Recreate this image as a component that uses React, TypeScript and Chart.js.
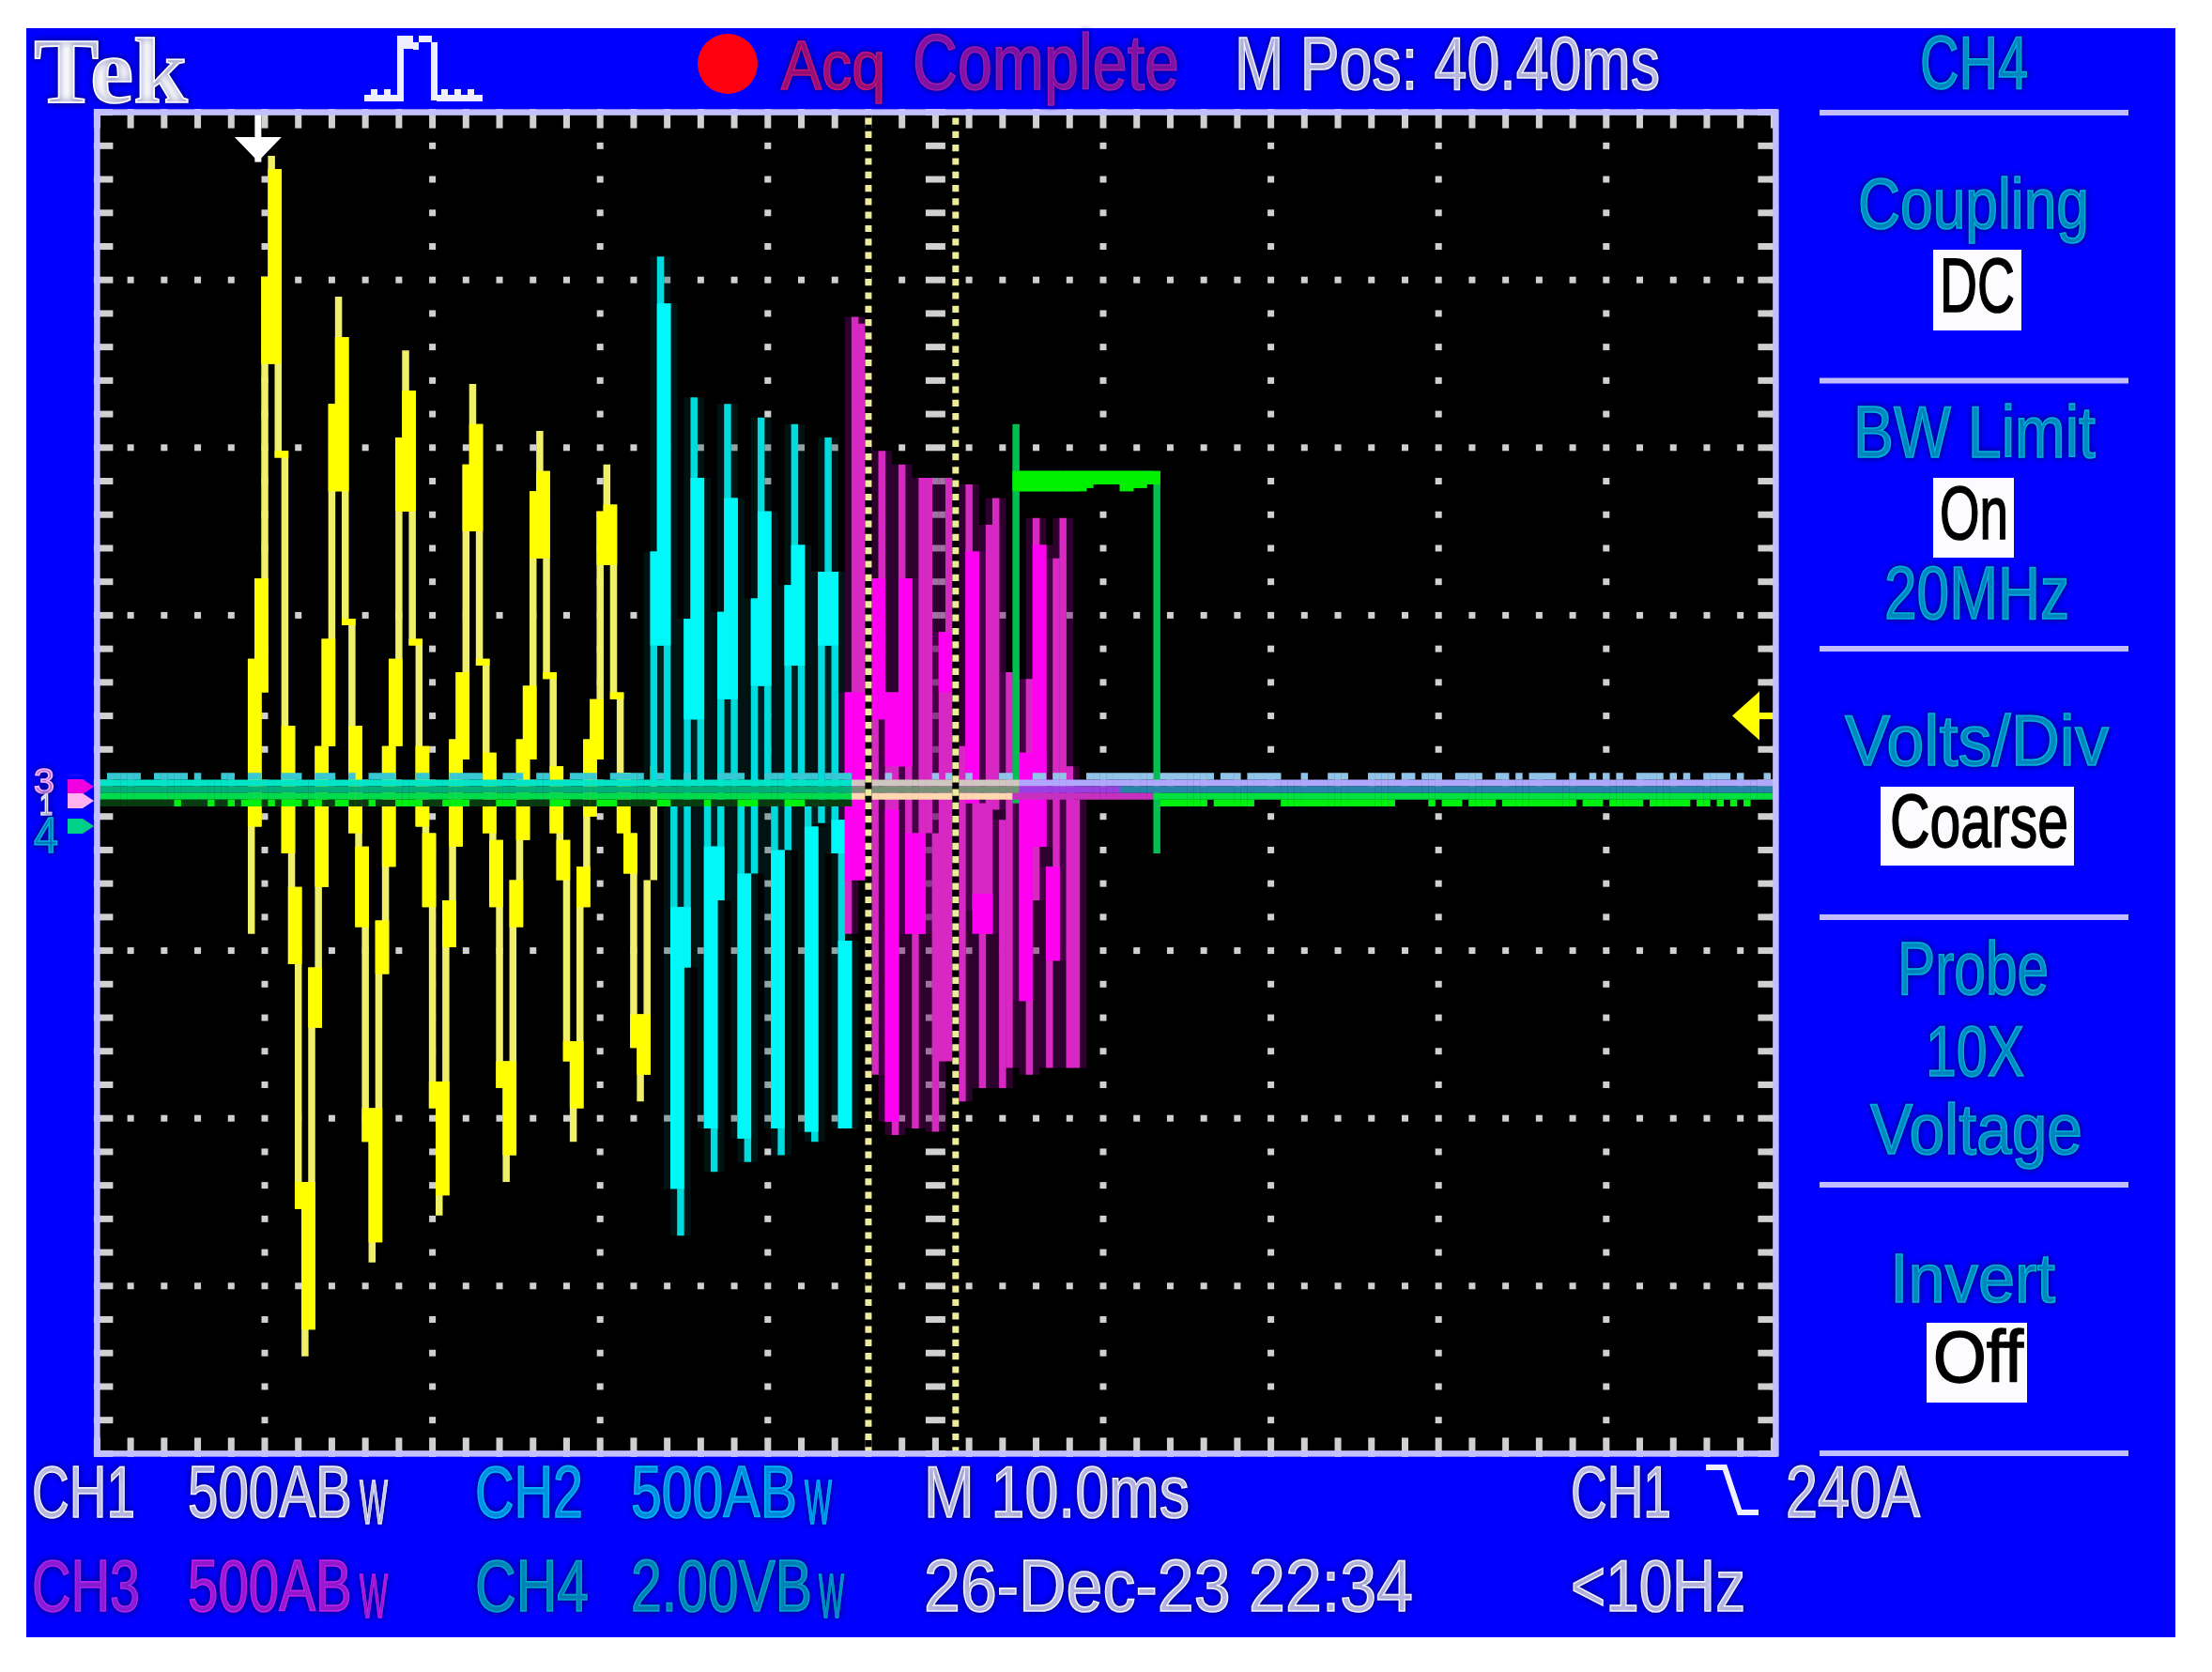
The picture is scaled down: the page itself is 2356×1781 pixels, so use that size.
import React, { useEffect, useRef } from "react";
import { Chart, registerables } from "chart.js";

Chart.register(...registerables);

type Span = [number, number];

// Display columns 0..250 (25 per division), levels -100..100 (25 per division).
const divisionColumns = 25;
const minorStep = 5;

const ch1Start = 23;
const ch1Spans: Span[] = [
  [-22.5, 18.5], [-6.5, 30.5], [13.5, 75.5], [62.5, 93.5], [48.5, 91.5], [-10.5, 49.5], [-27, 8.5], [-63.5, -15.5],
  [-85.5, -59.5], [-81.5, -27.5], [-36.5, 5.5], [-15.5, 21.5], [5.5, 56.5], [43.5, 72.5], [23.5, 66.5], [-7.5, 24.5],
  [-21.5, 8.5], [-53.5, -9.5], [-71.5, -48.5], [-68.5, -20.5], [-28.5, 5.5], [-12.5, 18.5], [5.5, 51.5], [40.5, 64.5],
  [20.5, 58.5], [-6.5, 21.5], [-18.5, 5.5], [-48.5, -7.5], [-64.5, -44.5], [-61.5, -17.5], [-24.5, 6.5], [-9.5, 16.5],
  [3.5, 47.5], [37.5, 59.5], [17.5, 53.5], [-7.5, 18.5], [-18.5, 4.5], [-45.5, -8.5], [-59.5, -41.5], [-55.5, -14.5],
  [-21.5, 6.5], [-8.5, 14.5], [3.5, 43.5], [33.5, 52.5], [15.5, 46.5], [-7.5, 16.5], [-14.5, 2.5], [-41.5, -8.5],
  [-53.5, -38.5], [-48.5, -12.5], [-18.5, 6.5], [-5, 12.5], [3.5, 40.5], [32.5, 47.5], [12.5, 41.5], [-7.5, 13.5],
  [-13.5, 1.5], [-39.5, -7.5], [-47.5, -34.5], [-43.5, -14.5], [-14.5, 2.5],
];

const ch2Start = 83;
const ch2Spans: Span[] = [
  [0, 34.5], [20.5, 78.5], [0, 71.5], [-60.5, -3], [-67.5, -18.5], [-27.5, 24.5], [9.5, 57.5], [0, 45.5],
  [-51.5, -3], [-58, -9.5], [-17.5, 25.5], [12.5, 56.5], [0, 42.5], [-53, -3], [-56.5, -13.5], [-13.5, 27.5],
  [14.5, 54.5], [0, 40.5], [-51.5, -3], [-55.5, -10], [-10, 29.5], [17.5, 53.5], [0, 35.5], [-52, -3],
  [-53.5, -6.5], [-6, 31.5], [20.5, 51.5], [-10.5, 31.5], [-51.5, -5.5], [-51.5, -23.5],
];

const ch3Start = 112;
const ch3Spans: Span[] = [
  [-22.5, 13.5], [-14.5, 69.5], [-14.5, 68.5], [-14, 28], [-43.5, 30.5], [9.5, 49.5], [-50.5, 13.5], [-52.5, 13.5],
  [2.5, 47.5], [-22.5, 30.5], [-51.5, -7.5], [-22.5, 45.5], [-7.5, 45.5], [-52, -7.5], [-41.5, 22.5], [-41.5, 45.5],
  [-3, 5.5], [-47.5, 5.5], [-3, 44.5], [-19, 34.5], [-45.5, -3], [-22.5, 38.5], [-4, 42.5], [-45.5, -5.5],
  [-42.5, 16.5], [-3, 15.5], [-32.5, 4.5], [-43.5, 15.5], [-17.5, 39.5], [-9.5, 35.5], [-42.5, -12.5], [-26.5, 33.5],
  [-1, 39.5], [-42.5, 2.5], [-42.5, -2.5],
];
// Saturated parts of CH3: first column, last column, low level, high level.
const ch3Core: [number, number, number, number][] = [
  [112, 114, -14.5, 13.5], [116, 117, 9.5, 30.5], [118, 121, 2.5, 13.5], [120, 121, 2.5, 30.5], [118, 119, -50.5, -4],
  [121, 123, -22.5, -7.5], [126, 127, 13.5, 22.5], [130, 131, -3, 34.5], [131, 133, -22.5, -16.5], [138, 141, -9.5, 4.5],
  [140, 141, -9.5, 35.5], [138, 139, -32.5, -9.5], [142, 143, -26.5, -12.5],
];

const ch4Start = 137;
const ch4Spans: Span[] = [
  [-3, 53.5], [43.5, 46.5], [43.5, 46.5], [43.5, 46.5], [43.5, 46.5], [43.5, 46.5], [43.5, 46.5], [43.5, 46.5],
  [43.5, 46.5], [43.5, 46.5], [43.5, 46.5], [44, 46.5], [44.5, 46.5], [44.5, 46.5], [44.5, 46.5], [44.5, 46.5],
  [43.5, 46.5], [43.5, 46.5], [44, 46.5], [44, 46.5], [44.5, 46.5], [-10.5, 46.5],
];

// Baseline rows: level and runs of columns [from, to].
const noiseLeftRuns: Span[] = [[2, 6], [9, 13], [15, 15], [19, 20], [23, 24], [28, 30], [33, 35], [38, 38], [41, 44], [48, 49], [53, 57], [61, 63], [66, 67], [71, 74], [77, 81], [84, 84], [88, 88], [93, 96], [100, 102], [104, 107], [109, 112]];
const noiseRightRuns: Span[] = [[118, 118], [125, 125], [127, 128], [130, 130], [135, 136], [140, 141], [143, 144], [148, 152], [153, 157], [159, 163], [164, 166], [168, 170], [172, 176], [180, 180], [184, 186], [190, 193], [195, 196], [198, 200], [203, 206], [209, 210], [212, 212], [214, 216], [217, 217], [220, 220], [223, 223], [225, 225], [227, 227], [230, 233], [235, 235], [237, 237], [240, 243], [245, 245], [249, 249]];
const greenBlobRuns: Span[] = [[12, 12], [17, 17], [20, 20], [22, 24], [26, 26], [28, 30], [32, 33], [36, 37], [41, 41], [45, 48], [52, 55], [60, 62], [68, 70], [75, 77], [84, 85], [91, 91], [96, 98], [103, 105], [159, 165], [167, 172], [177, 193], [199, 199], [201, 203], [205, 208], [210, 216], [217, 220], [222, 224], [226, 230], [232, 237], [239, 240], [242, 242], [244, 244], [246, 246]];
const baselineRows: { level: number; runs: Span[]; color: string }[] = [
  { level: 1, runs: noiseLeftRuns, color: "#38c8d4" },
  { level: 1, runs: noiseRightRuns, color: "#90c4e8" },
  { level: 0, runs: [[0, 112]], color: "#00e4c8" },
  { level: 0, runs: [[113, 137]], color: "#d0c8c0" },
  { level: 0, runs: [[138, 250]], color: "#b0a8ff" },
  { level: -1, runs: [[0, 112]], color: "#00b078" },
  { level: -1, runs: [[113, 137]], color: "#789078" },
  { level: -1, runs: [[138, 152]], color: "#9840e0" },
  { level: -1, runs: [[153, 250]], color: "#2884a8" },
  { level: -2, runs: [[0, 112]], color: "#00dc4c" },
  { level: -2, runs: [[113, 136]], color: "#ffd8b0" },
  { level: -2, runs: [[137, 157]], color: "#c830c0" },
  { level: -2, runs: [[158, 250]], color: "#00e040" },
  { level: -3, runs: [[0, 112]], color: "#063c10" },
  { level: -3, runs: greenBlobRuns, color: "#00f010" },
];

const cursorColumns = [115, 128];

// On-screen texts: text, left, right, baseline, cap height, colour.
const white = "#f0f0ff";
const teal = "#00b2d8";
const screenLabels: [string, number, number, number, number, string][] = [
  ["Acq", 832, 943, 95, 54, "#c81478"],
  ["Complete", 972, 1256, 95, 60, "#a418b0"],
  ["M Pos: 40.40ms", 1315, 1768, 95, 57, white],
  ["CH4", 2045, 2160, 94, 57, teal],
  ["Coupling", 1979, 2225, 243, 55, teal],
  ["BW Limit", 1974, 2232, 487, 56, teal],
  ["20MHz", 2007, 2204, 659, 57, teal],
  ["Volts/Div", 1965, 2246, 815, 55, teal],
  ["Probe", 2021, 2182, 1059, 57, teal],
  ["10X", 2051, 2156, 1146, 55, teal],
  ["Voltage", 1992, 2218, 1229, 55, teal],
  ["Invert", 2013, 2189, 1387, 54, teal],
  ["DC", 2066, 2146, 332, 59, "#000000"],
  ["On", 2066, 2139, 574, 58, "#000000"],
  ["Coarse", 2013, 2203, 902, 57, "#000000"],
  ["Off", 2059, 2155, 1472, 56, "#000000"],
  ["CH1", 34, 144, 1616, 56, white],
  ["500AB", 200, 375, 1616, 56, white],
  ["W", 383, 413, 1623, 48, white],
  ["CH2", 506, 621, 1616, 56, "#00b8ff"],
  ["500AB", 672, 849, 1616, 56, "#00b8ff"],
  ["W", 857, 886, 1623, 48, "#00b8ff"],
  ["M 10.0ms", 984, 1267, 1616, 56, white],
  ["CH1", 1673, 1780, 1616, 56, white],
  ["240A", 1902, 2045, 1616, 56, white],
  ["CH3", 34, 149, 1716, 56, "#b024f0"],
  ["500AB", 200, 375, 1716, 56, "#c420ec"],
  ["W", 383, 413, 1723, 48, "#c420ec"],
  ["CH4", 506, 627, 1716, 56, "#00a8cc"],
  ["2.00VB", 672, 865, 1716, 56, "#00a8cc"],
  ["W", 872, 899, 1723, 48, "#00a8cc"],
  ["26-Dec-23 22:34", 984, 1505, 1716, 56, white],
  ["<10Hz", 1673, 1859, 1716, 56, white],
  ["3", 36, 58, 845, 26, "#ffb0ff"],
  ["1", 42, 56, 868, 22, "#e8e8ff"],
  ["4", 36, 62, 908, 38, "#00b0e0"],
];
const softKeys: [string, number, number, number, number][] = [
  ["DC", 2059, 2153, 266, 352],
  ["On", 2059, 2145, 509, 594],
  ["Coarse", 2003, 2209, 838, 922],
  ["Off", 2052, 2159, 1409, 1494],
];
const menuRules = [120, 405.5, 691, 977, 1262, 1548];

const columnBars = (start: number, spans: Span[]) => spans.map((y, i) => ({ x: start + i, y }));
const brightBars = (start: number, spans: Span[]) => {
  const out: { x: number; y: Span }[] = [];
  spans.slice(0, -1).forEach((a, i) => {
    const b = spans[i + 1];
    const lo = Math.max(a[0], b[0]);
    const hi = Math.min(a[1], b[1]);
    if (hi > lo) {
      out.push({ x: start + i, y: [lo, hi] }, { x: start + i + 1, y: [lo, hi] });
    }
  });
  return out;
};
const coreBars = (parts: [number, number, number, number][]) => {
  const out: { x: number; y: Span }[] = [];
  parts.forEach(([from, to, lo, hi]) => {
    for (let c = from; c <= to; c++) out.push({ x: c, y: [lo, hi] });
  });
  return out;
};
const haloBars = (start: number, spans: Span[]) =>
  spans.flatMap((y, i) => [
    { x: start + i - 1, y },
    { x: start + i + 1, y },
  ]);
const rowBars = (level: number, runs: Span[]) => {
  const out: { x: number; y: Span }[] = [];
  runs.forEach(([from, to]) => {
    for (let c = from; c <= to; c++) out.push({ x: c, y: [level - 0.5, level + 0.5] });
  });
  return out;
};

const barBase = { type: "bar" as const, grouped: false, barPercentage: 1.05, categoryPercentage: 1, borderWidth: 0 };

function fitText(ctx: CanvasRenderingContext2D, text: string, x0: number, x1: number, base: number, cap: number, color: string, family = '"Liberation Sans"', weight = "") {
  ctx.save();
  ctx.font = `${weight} ${cap / 0.72}px ${family}`;
  const w = ctx.measureText(text).width;
  ctx.translate(x0, base);
  ctx.scale((x1 - x0) / w, 1);
  ctx.textBaseline = "alphabetic";
  ctx.textAlign = "left";
  ctx.fillStyle = color;
  ctx.strokeStyle = color;
  ctx.lineWidth = 1.6;
  if (color !== "#000000") {
    ctx.shadowColor = "#000070";
    ctx.shadowBlur = 7;
  }
  ctx.fillText(text, 0, 0);
  ctx.strokeText(text, 0, 0);
  ctx.restore();
}

const oscilloscopePlugin = {
  id: "oscilloscope",
  beforeDatasetsDraw(chart: any) {
    const { ctx, scales, chartArea: a } = chart;
    const X = (v: number) => scales.x.getPixelForValue(v);
    const Y = (v: number) => scales.y.getPixelForValue(v);
    ctx.save();
    ctx.fillStyle = "#ffffff";
    ctx.fillRect(0, 0, chart.width, chart.height);
    ctx.fillStyle = "#0000ff";
    ctx.fillRect(28, 30, 2289, 1714);
    ctx.fillStyle = "#000000";
    ctx.fillRect(a.left, a.top, a.width, a.height);

    ctx.fillStyle = "#d0d0d0";
    const dot = (x: number, y: number, w = 7, h = 7) => ctx.fillRect(x - w / 2, y - h / 2, w, h);
    for (let c = 0; c <= 250; c += minorStep) {
      for (let l = -100; l <= 100; l += minorStep) {
        const xMajor = c % divisionColumns === 0;
        const yMajor = l % divisionColumns === 0;
        if (c === 125 && l !== 0) dot(X(c), Y(l), 21, 7);
        else if (xMajor || yMajor) dot(X(c), Y(l));
      }
      ctx.fillRect(X(c) - 3.5, a.top, 7, 17);
      ctx.fillRect(X(c) - 3.5, a.bottom - 17, 7, 17);
    }
    for (let l = -100; l <= 100; l += minorStep) {
      ctx.fillRect(a.left, Y(l) - 3.5, 17, 7);
      ctx.fillRect(a.right - 17, Y(l) - 3.5, 17, 7);
    }
    ctx.restore();
  },
  afterDatasetsDraw(chart: any) {
    const { ctx, scales, chartArea: a } = chart;
    const X = (v: number) => scales.x.getPixelForValue(v);
    const Y = (v: number) => scales.y.getPixelForValue(v);
    ctx.save();
    // graticule frame and menu rules
    ctx.strokeStyle = "#c4c0ff";
    ctx.lineWidth = 6.5;
    ctx.strokeRect(a.left, a.top, a.width + 2, a.height);
    ctx.fillStyle = "#c0bcff";
    menuRules.forEach((y) => ctx.fillRect(1938, y - 3, 329, 6));

    // soft-key boxes
    ctx.fillStyle = "#fcfcff";
    softKeys.forEach(([, x0, x1, y0, y1]) => ctx.fillRect(x0, y0, x1 - x0, y1 - y0));

    // Tek logo
    fitText(ctx, "Tek", 36, 200, 109, 71, "#ffffff", '"Liberation Serif"', "bold");

    // acquisition pulse icon
    ctx.fillStyle = "#eeeeff";
    ctx.beginPath();
    ctx.rect(423, 38, 7, 70);
    ctx.rect(430, 38, 10, 14);
    ctx.rect(440, 45, 6, 8);
    ctx.rect(446, 38, 14, 7);
    ctx.rect(459, 45, 7, 62);
    ctx.rect(388, 101, 36, 7);
    ctx.rect(465, 101, 49, 7);
    ctx.fill();
    [395, 409, 470, 484, 498].forEach((x) => ctx.fillRect(x, 95, 7, 6));

    // run indicator
    ctx.fillStyle = "#ff0010";
    ctx.beginPath();
    ctx.arc(775, 68, 32, 0, Math.PI * 2);
    ctx.fill();

    // trigger position arrow
    ctx.fillStyle = "#ffffff";
    const tx = X(24);
    ctx.fillRect(tx - 3.5, a.top + 3, 7, 50);
    ctx.beginPath();
    ctx.moveTo(tx - 25, 146);
    ctx.lineTo(tx + 25, 146);
    ctx.lineTo(tx, 172);
    ctx.closePath();
    ctx.fill();

    // trigger level arrow
    const ty = Y(10);
    ctx.fillStyle = "#ffff00";
    ctx.beginPath();
    ctx.moveTo(1845, ty);
    ctx.lineTo(1874, ty - 26);
    ctx.lineTo(1874, ty + 26);
    ctx.closePath();
    ctx.fill();
    ctx.fillRect(1874, ty - 3.5, 14, 7);

    // channel ground arrows
    const arrow = (y: number, color: string) => {
      ctx.fillStyle = color;
      ctx.beginPath();
      ctx.moveTo(72, y - 8);
      ctx.lineTo(88, y - 8);
      ctx.lineTo(100, y);
      ctx.lineTo(88, y + 8);
      ctx.lineTo(72, y + 8);
      ctx.closePath();
      ctx.fill();
    };
    arrow(838, "#f000e0");
    arrow(853, "#ffb0f0");
    arrow(880, "#00d088");

    // screen texts
    screenLabels.forEach(([t, x0, x1, b, cap, c]) => fitText(ctx, t, x0, x1, b, cap, c));

    // trigger slope glyph
    ctx.strokeStyle = "#f0f0ff";
    ctx.lineWidth = 6;
    ctx.beginPath();
    ctx.moveTo(1817, 1563);
    ctx.lineTo(1837, 1563);
    ctx.lineTo(1853, 1611);
    ctx.lineTo(1873, 1611);
    ctx.stroke();
    ctx.restore();
  },
};

export default function App() {
  const ref = useRef<HTMLCanvasElement>(null);
  useEffect(() => {
    const datasets: any[] = [
      { ...barBase, label: "CH2 halo", data: haloBars(ch2Start, ch2Spans), backgroundColor: "rgba(0,60,60,0.3)", order: 120 },
      { ...barBase, label: "CH3 halo", data: haloBars(ch3Start, ch3Spans), backgroundColor: "rgba(100,0,100,0.45)", order: 119 },
      { ...barBase, label: "CH1", data: columnBars(ch1Start, ch1Spans), backgroundColor: "#f0f068", order: 100 },
      { ...barBase, label: "CH1 core", data: brightBars(ch1Start, ch1Spans), backgroundColor: "#ffff00", order: 99 },
      { ...barBase, label: "CH2", data: columnBars(ch2Start, ch2Spans), backgroundColor: "#00dcde", order: 98 },
      { ...barBase, label: "CH2 core", data: brightBars(ch2Start, ch2Spans), backgroundColor: "#00f8f8", order: 97 },
      { ...barBase, label: "CH3", data: columnBars(ch3Start, ch3Spans), backgroundColor: "#d828c4", order: 96 },
      { ...barBase, label: "CH3 core", data: coreBars(ch3Core), backgroundColor: "#ff00f0", order: 95 },
      { ...barBase, label: "CH4", data: columnBars(ch4Start, ch4Spans), backgroundColor: "#00c050", order: 94 },
      { ...barBase, label: "CH4 core", data: brightBars(ch4Start, ch4Spans), backgroundColor: "#00f000", order: 93 },
      ...baselineRows.map((r, i) => ({
        ...barBase,
        label: `baseline ${i}`,
        data: rowBars(r.level, r.runs),
        backgroundColor: r.color,
        order: 80 - i,
      })),
      ...cursorColumns.flatMap((c, i) => [
        { type: "line", label: `cursor gap ${i}`, data: [{ x: c, y: -100 }, { x: c, y: 100 }], borderColor: "#000000", borderWidth: 7, pointRadius: 0, order: 6 },
        { type: "line", label: `cursor ${i}`, data: [{ x: c, y: -100 }, { x: c, y: 100 }], borderColor: "#ecec9c", borderWidth: 7, borderDash: [7.2, 7.1], pointRadius: 0, order: 5 },
      ]),
    ];
    const chart = new Chart(ref.current as HTMLCanvasElement, {
      data: { datasets },
      options: {
        animation: false,
        responsive: false,
        devicePixelRatio: 1,
        layout: { padding: { left: 103.4, top: 119.6, right: 2356 - 1889.4, bottom: 1781 - 1548.4 } },
        plugins: { legend: { display: false }, tooltip: { enabled: false } },
        scales: {
          x: { type: "linear", min: 0, max: 250, display: false, offset: false },
          y: { type: "linear", min: -100, max: 100, display: false },
        },
      },
      plugins: [oscilloscopePlugin],
    } as any);
    return () => chart.destroy();
  }, []);
  return <canvas ref={ref} width={2356} height={1781} style={{ position: "absolute", left: 0, top: 0, display: "block" }} />;
}
